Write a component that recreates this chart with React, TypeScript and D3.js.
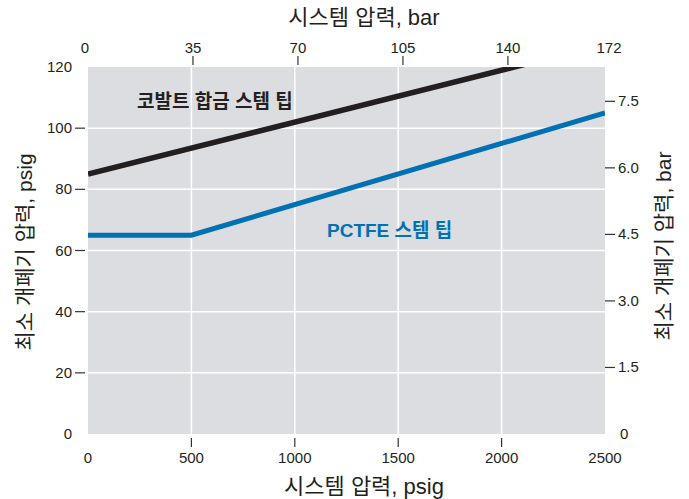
import React from "react";
import * as d3 from "d3";

const psigTicks = [0, 500, 1000, 1500, 2000, 2500];
const psigYTicks = [0, 20, 40, 60, 80, 100, 120];
const barTopTicks = [0, 35, 70, 105, 140, 172];
const barRightTicks = [0, 1.5, 3.0, 4.5, 6.0, 7.5];
const cobaltX = [0, 2120];
const cobaltY = [85, 121];
const pctfeX = [0, 500, 2500];
const pctfeY = [65, 65, 105];
const PSI_PER_BAR = 14.5038;

const W = 689, H = 499;
const L = 88, R = 605, T = 67, B = 434;
const FONT = "'Liberation Sans', Arial, 'Noto Sans CJK KR', sans-serif";
const TXT = "#231f20";

export default function App() {
  const x = d3.scaleLinear().domain([0, 2500]).range([L, R]);
  const y = d3.scaleLinear().domain([0, 120]).range([B, T]);
  const line = d3.line<[number, number]>().x(d => x(d[0])).y(d => y(d[1]));
  const cobalt = cobaltX.map((v, i) => [v, cobaltY[i]] as [number, number]);
  const pctfe = pctfeX.map((v, i) => [v, pctfeY[i]] as [number, number]);

  return (
    <div style={{ position: "absolute", left: 0, top: 0 }}>
      <svg width={W} height={H} style={{ display: "block", background: "#fff" }} fontFamily={FONT}>
        <defs>
          <clipPath id="plotclip">
            <rect x={L} y={T} width={R - L} height={B - T} />
          </clipPath>
        </defs>
        <rect x={L} y={T} width={R - L} height={B - T} fill="#dcdde0" />
        {psigTicks.slice(1, -1).map(t => (
          <line key={"vg" + t} x1={x(t)} x2={x(t)} y1={T} y2={B} stroke="#fff" strokeWidth={1.5} />
        ))}
        {psigYTicks.slice(1, -1).map(t => (
          <line key={"hg" + t} x1={L} x2={R} y1={y(t)} y2={y(t)} stroke="#fff" strokeWidth={1.5} />
        ))}
        <g clipPath="url(#plotclip)">
          <path d={line(cobalt) || ""} fill="none" stroke="#231f20" strokeWidth={5.5} />
          <path d={line(pctfe) || ""} fill="none" stroke="#0071b3" strokeWidth={5} />
        </g>

        {/* bottom axis */}
        {psigTicks.map((t, i) => (
          <g key={"bx" + t}>
            {i > 0 && i < psigTicks.length - 1 && (
              <line x1={x(t)} x2={x(t)} y1={B + 4} y2={B + 13} stroke="#333" strokeWidth={1.2} />
            )}
            <text x={x(t)} y={463} textAnchor="middle" fontSize={15} fill={TXT}>{t}</text>
          </g>
        ))}
        <text x={364} y={494} textAnchor="middle" fontSize={22} fill={TXT}>시스템 압력, psig</text>

        {/* top axis */}
        {barTopTicks.map((t, i) => {
          const px = x(Math.min(t * PSI_PER_BAR, 2500));
          const lx = i === 0 ? L - 3 : i === barTopTicks.length - 1 ? R + 4 : px;
          return (
            <g key={"tx" + t}>
              {i > 0 && i < barTopTicks.length - 1 && (
                <line x1={px} x2={px} y1={T - 11} y2={T - 2} stroke="#333" strokeWidth={1.2} />
              )}
              <text x={lx} y={53} textAnchor="middle" fontSize={15} fill={TXT}>{t}</text>
            </g>
          );
        })}
        <text x={364} y={25} textAnchor="middle" fontSize={22} fill={TXT}>시스템 압력, bar</text>

        {/* left axis */}
        {psigYTicks.map((t, i) => (
          <g key={"ly" + t}>
            {i > 0 && i < psigYTicks.length - 1 && (
              <line x1={75} x2={85} y1={y(t)} y2={y(t)} stroke="#333" strokeWidth={1.2} />
            )}
            <text x={72} y={y(t) + 5} textAnchor="end" fontSize={15} fill={TXT}>{t}</text>
          </g>
        ))}
        <text transform={`translate(32,252) rotate(-90)`} textAnchor="middle" fontSize={21} fill={TXT}>최소 개폐기 압력, psig</text>

        {/* right axis */}
        {barRightTicks.map((t, i) => {
          const py = y(t * PSI_PER_BAR);
          return (
            <g key={"ry" + t}>
              {i > 0 && (
                <line x1={R} x2={R + 10} y1={py} y2={py} stroke="#333" strokeWidth={1.2} />
              )}
              <text x={i === 0 ? 620 : 618} y={py + 5} textAnchor="start" fontSize={15} fill={TXT}>{t === 0 ? "0" : t.toFixed(1)}</text>
            </g>
          );
        })}
        <text transform={`translate(671,246) rotate(-90)`} textAnchor="middle" fontSize={21} fill={TXT}>최소 개폐기 압력, bar</text>

        {/* series labels */}
        <text x={137} y={108} fontSize={19} fontWeight="bold" fill="#231f20">코발트 합금 스템 팁</text>
        <text x={327} y={237} fontSize={19} fontWeight="bold" fill="#0071b3">PCTFE 스템 팁</text>
      </svg>
    </div>
  );
}
